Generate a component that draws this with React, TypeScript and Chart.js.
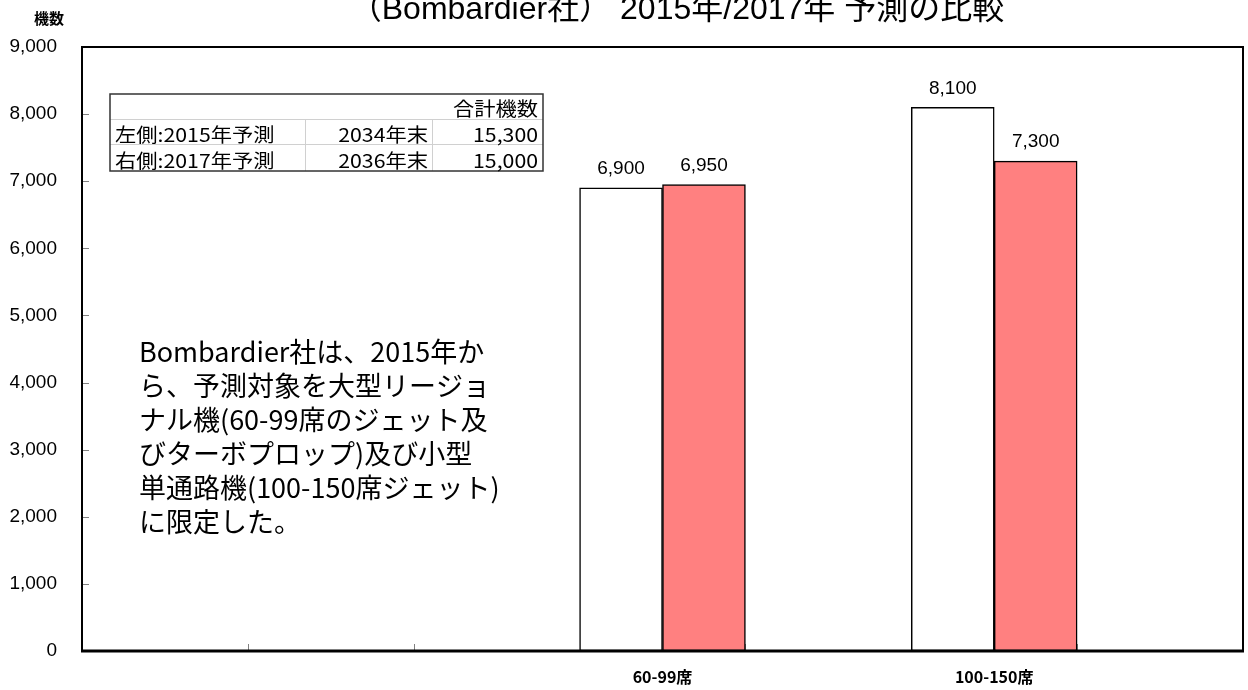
import React, { useEffect, useRef } from "react";
import { Chart, registerables } from "chart.js";

Chart.register(...registerables);

const categories = ["", "", "", "60-99席", "", "100-150席", ""];
const forecast2015 = [null, null, null, 6900, null, 8100, null];
const forecast2017 = [null, null, null, 6950, null, 7300, null];
const yMin = 0;
const yMax = 9000;
const yStep = 1000;

const titleText = "（Bombardier社） 2015年/2017年 予測の比較";
const yAxisTitle = "機数";

const tableHeader = ["", "", "合計機数"];
const tableRow1 = ["左側:2015年予測", "2034年末", "15,300"];
const tableRow2 = ["右側:2017年予測", "2036年末", "15,000"];

const noteLines = [
  "Bombardier社は、2015年か",
  "ら、予測対象を大型リージョ",
  "ナル機(60-99席のジェット及",
  "びターボプロップ)及び小型",
  "単通路機(100-150席ジェット)",
  "に限定した。",
];

const JP = "'Noto Sans CJK JP', 'Liberation Sans', sans-serif";
const AR = "'Liberation Sans', 'Noto Sans CJK JP', sans-serif";

function stretchText(ctx: any, text: string, x: number, y: number, align: string, sx: number) {
  ctx.save();
  ctx.translate(x, y);
  ctx.scale(sx, 1);
  ctx.textAlign = align;
  ctx.fillText(text, 0, 0);
  ctx.restore();
}

const decorPlugin = {
  id: "decor",
  beforeDatasetsDraw(chart: any) {
    const ctx = chart.ctx;
    const { left, bottom } = chart.chartArea;
    const x = chart.scales.x;
    const y = chart.scales.y;
    ctx.save();
    ctx.strokeStyle = "#808080";
    ctx.lineWidth = 1;
    for (let v = yMin + yStep; v < yMax; v += yStep) {
      const py = Math.round(y.getPixelForValue(v)) + 0.5;
      ctx.beginPath();
      ctx.moveTo(left, py);
      ctx.lineTo(left + 7, py);
      ctx.stroke();
    }
    for (let i = 1; i < categories.length; i++) {
      const px = Math.round((x.getPixelForValue(i - 1) + x.getPixelForValue(i)) / 2) + 0.5;
      ctx.beginPath();
      ctx.moveTo(px, bottom);
      ctx.lineTo(px, bottom - 7);
      ctx.stroke();
    }
    ctx.restore();
  },
  afterDatasetsDraw(chart: any) {
    const ctx = chart.ctx;
    const { left, right, top, bottom } = chart.chartArea;
    ctx.save();
    ctx.strokeStyle = "#000";
    ctx.lineWidth = 2;
    ctx.strokeRect(left, top, right - left, bottom - top);
    ctx.lineWidth = 3;
    ctx.beginPath();
    ctx.moveTo(left - 1, bottom);
    ctx.lineTo(right + 1, bottom);
    ctx.stroke();

    ctx.fillStyle = "#000";
    ctx.font = `19px ${AR}`;
    ctx.textAlign = "center";
    ctx.textBaseline = "middle";
    chart.data.datasets.forEach((ds: any, di: number) => {
      const meta = chart.getDatasetMeta(di);
      meta.data.forEach((bar: any, i: number) => {
        const v = ds.data[i];
        if (v == null) return;
        ctx.fillText(v.toLocaleString("en-US"), bar.x, bar.y - 19);
      });
    });
    ctx.restore();
  },
  afterDraw(chart: any) {
    const ctx = chart.ctx;
    ctx.save();
    ctx.fillStyle = "#000";

    // title (clipped at top)
    ctx.font = `32px ${AR}`;
    ctx.textAlign = "center";
    ctx.textBaseline = "alphabetic";
    ctx.fillText(titleText, 677, 19);

    // y axis title
    ctx.font = `bold 15px ${JP}`;
    ctx.textAlign = "left";
    ctx.textBaseline = "middle";
    ctx.fillText(yAxisTitle, 34, 18);

    // table
    const tL = 110, tR = 543, tT = 94, tB = 171;
    const rows = [tableHeader, tableRow1, tableRow2];
    const rowLines = [tT, 119, 144, tB];
    const textY = [109, 135, 161];
    const colLines = [tL, 305, 432, tR];
    const rightEdges = [0, 428, 538];
    ctx.fillStyle = "#fff";
    ctx.fillRect(tL, tT, tR - tL, tB - tT);
    ctx.strokeStyle = "#d0d0d0";
    ctx.lineWidth = 1;
    for (let r = 1; r < rows.length; r++) {
      ctx.beginPath();
      ctx.moveTo(tL, rowLines[r] + 0.5);
      ctx.lineTo(tR, rowLines[r] + 0.5);
      ctx.stroke();
    }
    for (let c = 1; c < 3; c++) {
      ctx.beginPath();
      ctx.moveTo(colLines[c] + 0.5, rowLines[1]);
      ctx.lineTo(colLines[c] + 0.5, tB);
      ctx.stroke();
    }
    ctx.strokeStyle = "#333";
    ctx.lineWidth = 1.5;
    ctx.strokeRect(tL, tT, tR - tL, tB - tT);
    ctx.fillStyle = "#000";
    ctx.font = `19px ${JP}`;
    ctx.textBaseline = "middle";
    rows.forEach((row, r) => {
      row.forEach((cell, c) => {
        if (!cell) return;
        if (c === 0) {
          stretchText(ctx, cell, colLines[0] + 5, textY[r], "left", 1.12);
        } else {
          stretchText(ctx, cell, rightEdges[c], textY[r], "right", 1.12);
        }
      });
    });

    // note
    ctx.font = `27px ${JP}`;
    ctx.textAlign = "left";
    ctx.textBaseline = "middle";
    noteLines.forEach((line, i) => {
      ctx.fillText(line, 139, 352 + i * 34);
    });
    ctx.restore();
  },
};

export default function App() {
  const ref = useRef<HTMLCanvasElement | null>(null);
  useEffect(() => {
    if (!ref.current) return;
    const chart = new Chart(ref.current, {
      type: "bar",
      data: {
        labels: categories,
        datasets: [
          {
            label: "2015年予測",
            data: forecast2015,
            backgroundColor: "#ffffff",
            borderColor: "#000000",
            borderWidth: 1.5,
            borderSkipped: false,
            categoryPercentage: 1,
            barPercentage: 1,
          },
          {
            label: "2017年予測",
            data: forecast2017,
            backgroundColor: "#ff8080",
            borderColor: "#000000",
            borderWidth: 1.5,
            borderSkipped: false,
            categoryPercentage: 1,
            barPercentage: 1,
          },
        ],
      },
      options: {
        responsive: false,
        animation: false,
        layout: { padding: { left: 0, top: 47, right: 5, bottom: 0 } },
        plugins: {
          legend: { display: false },
          tooltip: { enabled: false },
          title: { display: false },
        },
        scales: {
          x: {
            grid: { display: false, drawTicks: false },
            border: { display: false },
            ticks: {
              color: "#000",
              font: { family: JP, size: 16, weight: "bold" },
              padding: 16,
              maxRotation: 0,
              autoSkip: false,
            },
            afterFit: (s: any) => {
              s.height = 39;
            },
          },
          y: {
            min: yMin,
            max: yMax,
            grid: { display: false, drawTicks: false },
            border: { display: false },
            ticks: {
              stepSize: yStep,
              color: "#000",
              font: { family: AR, size: 19 },
              padding: 25,
              callback: (v: any) => Number(v).toLocaleString("en-US"),
            },
            afterFit: (s: any) => {
              s.width = 82;
            },
          },
        },
      },
      plugins: [decorPlugin],
    });
    return () => chart.destroy();
  }, []);
  return (
    <div style={{ position: "fixed", left: 0, top: 0, width: 1248, height: 690, background: "#fff" }}>
      <canvas ref={ref} width={1248} height={690} style={{ width: 1248, height: 690 }} />
    </div>
  );
}
